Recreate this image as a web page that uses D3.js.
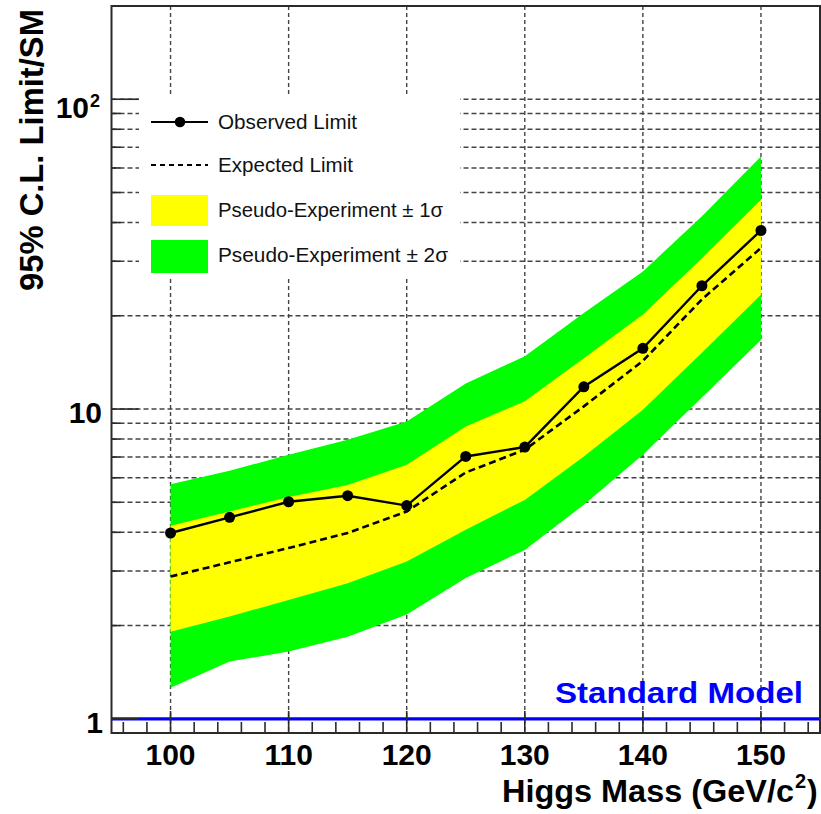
<!DOCTYPE html>
<html>
<head>
<meta charset="utf-8">
<script src="https://cdn.jsdelivr.net/npm/d3@7"></script>
<style>
  html, body { margin: 0; padding: 0; background: #ffffff; }
  svg { display: block; }
  text { font-family: "Liberation Sans", Arial, Helvetica, sans-serif; }
</style>
</head>
<body>
<svg id="chart" width="821" height="814"></svg>
<script>
// Higgs mass points (GeV/c^2)
const masses = [100, 105, 110, 115, 120, 125, 130, 135, 140, 145, 150];
// 95% C.L. limit / SM, observed
const observed = [3.98, 4.47, 5.02, 5.25, 4.88, 7.03, 7.54, 11.8, 15.7, 25.0, 37.7];
// median expected limit
const expected = [2.88, 3.20, 3.56, 3.98, 4.67, 6.24, 7.39, 10.2, 14.3, 22.6, 33.1];
// pseudo-experiment bands
const minus2 = [1.26, 1.53, 1.65, 1.84, 2.17, 2.85, 3.51, 4.91, 7.12, 10.9, 16.7];
const minus1 = [1.91, 2.14, 2.42, 2.74, 3.22, 4.08, 5.09, 7.03, 9.95, 15.2, 23.4];
const plus1  = [4.20, 4.67, 5.20, 5.69, 6.61, 8.78, 10.6, 14.6, 20.2, 30.7, 47.4];
const plus2  = [5.72, 6.32, 7.12, 7.96, 9.12, 12.1, 14.8, 20.4, 27.8, 41.9, 65.4];

const xMajorTicks = [100, 110, 120, 130, 140, 150];
const xTickLabels = ["100", "110", "120", "130", "140", "150"];
const yMajorTicks = [1, 10, 100];
const smLevel = 1;

const legendLabels = ["Observed Limit", "Expected Limit", "Pseudo-Experiment \u00b1 1\u03c3", "Pseudo-Experiment \u00b1 2\u03c3"];

const svg = d3.select("#chart");
const L = 111.5, R = 820, T = 6, B = 733;

const x = d3.scaleLinear().domain([95, 155]).range([L, R]);
const y = d3.scaleLog().domain([0.9, 200]).range([B, T]);

svg.append("rect").attr("width", 821).attr("height", 814).attr("fill", "#fff");

// grid
const yGridVals = [];
[1, 10, 100].forEach(d => { for (let m = 1; m <= 9; m++) { const v = d * m; if (v <= 200) yGridVals.push(v); } });
yGridVals.push(200);
const grid = svg.append("g").attr("stroke", "#444").attr("stroke-width", 1.4).attr("fill", "none");
grid.selectAll("line.h").data(yGridVals).join("line").attr("class", "h")
  .attr("x1", L).attr("x2", R).attr("y1", d => y(d)).attr("y2", d => y(d))
  .attr("stroke-dasharray", "5,3");
grid.selectAll("line.v").data(xMajorTicks).join("line").attr("class", "v")
  .attr("x1", d => x(d)).attr("x2", d => x(d)).attr("y1", T).attr("y2", B)
  .attr("stroke-dasharray", "4,3");

const idx = d3.range(masses.length);
const band = (lo, hi) => d3.area().x(i => x(masses[i])).y0(i => y(lo[i])).y1(i => y(hi[i]))(idx);
svg.append("path").attr("d", band(minus2, plus2)).attr("fill", "#00ff00");
svg.append("path").attr("d", band(minus1, plus1)).attr("fill", "#ffff00");

const lineOf = arr => d3.line().x(i => x(masses[i])).y(i => y(arr[i]))(idx);
svg.append("path").attr("d", lineOf(expected)).attr("fill", "none")
  .attr("stroke", "#000").attr("stroke-width", 2.6).attr("stroke-dasharray", "7,4");
svg.append("path").attr("d", lineOf(observed)).attr("fill", "none")
  .attr("stroke", "#000").attr("stroke-width", 2.4);
svg.selectAll("circle.obs").data(idx).join("circle").attr("class", "obs")
  .attr("cx", i => x(masses[i])).attr("cy", i => y(observed[i])).attr("r", 5.5).attr("fill", "#000");

// legend
const lg = svg.append("g");
lg.append("rect").attr("x", 139).attr("y", 97).attr("width", 321).attr("height", 179).attr("fill", "#fff");
const lx1 = 151, lx2 = 208, tx = 218;
lg.append("line").attr("x1", lx1).attr("x2", lx2).attr("y1", 122).attr("y2", 122).attr("stroke", "#000").attr("stroke-width", 2.2);
lg.append("circle").attr("cx", 180).attr("cy", 122).attr("r", 5.3).attr("fill", "#000");
lg.append("line").attr("x1", lx1).attr("x2", lx2).attr("y1", 165).attr("y2", 165).attr("stroke", "#000").attr("stroke-width", 2).attr("stroke-dasharray", "5,4");
lg.append("rect").attr("x", lx1).attr("y", 195).attr("width", lx2 - lx1).attr("height", 31).attr("fill", "#ffff00");
lg.append("rect").attr("x", lx1).attr("y", 240).attr("width", lx2 - lx1).attr("height", 33).attr("fill", "#00ff00");
const lgBase = [129, 171.5, 216.5, 261.5];
const lgLen = [139, 135, 225, 230];
legendLabels.forEach((t, i) => {
  lg.append("text").attr("x", tx).attr("y", lgBase[i]).attr("font-size", 21).attr("fill", "#111")
    .attr("textLength", lgLen[i]).attr("lengthAdjust", "spacingAndGlyphs").text(t);
});

// Standard Model reference line
svg.append("line").attr("x1", L).attr("x2", R).attr("y1", y(smLevel)).attr("y2", y(smLevel))
  .attr("stroke", "#0000ff").attr("stroke-width", 3.2);
svg.append("text").attr("x", 555).attr("y", 703).attr("font-size", 30).attr("font-weight", "bold")
  .attr("fill", "#0000ff").attr("textLength", 248).attr("lengthAdjust", "spacingAndGlyphs").text("Standard Model");

// frame
svg.append("rect").attr("x", L).attr("y", T).attr("width", R - L).attr("height", B - T)
  .attr("fill", "none").attr("stroke", "#2a2a2a").attr("stroke-width", 2);

// ticks
const ticks = svg.append("g").attr("stroke", "#2a2a2a").attr("stroke-width", 1.6);
const xMinor = d3.range(96, 155, 2).filter(v => v % 10 !== 0);
ticks.selectAll("line.xm").data(xMinor).join("line").attr("class", "xm")
  .attr("x1", d => x(d)).attr("x2", d => x(d)).attr("y1", B).attr("y2", B - 11);
ticks.selectAll("line.xM").data(xMajorTicks).join("line").attr("class", "xM")
  .attr("x1", d => x(d)).attr("x2", d => x(d)).attr("y1", B).attr("y2", B - 22);
const yMinor = yGridVals.filter(v => !yMajorTicks.includes(v) && v < 200);
ticks.selectAll("line.ym").data(yMinor).join("line").attr("class", "ym")
  .attr("x1", L).attr("x2", L + 9).attr("y1", d => y(d)).attr("y2", d => y(d));
ticks.selectAll("line.yM").data(yMajorTicks).join("line").attr("class", "yM")
  .attr("x1", L).attr("x2", L + 27).attr("y1", d => y(d)).attr("y2", d => y(d));

// x tick labels
svg.selectAll("text.xl").data(xMajorTicks).join("text").attr("class", "xl")
  .attr("x", d => x(d)).attr("y", 765).attr("text-anchor", "middle")
  .attr("font-size", 30).attr("font-weight", "bold").attr("fill", "#000")
  .text((d, i) => xTickLabels[i]);

// y tick labels
svg.append("text").attr("x", 103).attr("y", y(1) + 14).attr("text-anchor", "end")
  .attr("font-size", 30).attr("font-weight", "bold").text("1");
svg.append("text").attr("x", 102).attr("y", y(10) + 13.5).attr("text-anchor", "end")
  .attr("font-size", 30).attr("font-weight", "bold").text("10");
svg.append("text").attr("x", 89).attr("y", y(100) + 18.5).attr("text-anchor", "end")
  .attr("font-size", 30).attr("font-weight", "bold").text("10");
svg.append("text").attr("x", 90).attr("y", y(100) + 8).attr("text-anchor", "start")
  .attr("font-size", 18).attr("font-weight", "bold").text("2");

// axis titles
svg.append("text").attr("x", 794).attr("y", 802).attr("text-anchor", "end")
  .attr("font-size", 32).attr("font-weight", "bold")
  .attr("textLength", 292).attr("lengthAdjust", "spacingAndGlyphs").text("Higgs Mass (GeV/c");
svg.append("text").attr("x", 795).attr("y", 788).attr("font-size", 20).attr("font-weight", "bold").text("2");
svg.append("text").attr("x", 807).attr("y", 802).attr("font-size", 32).attr("font-weight", "bold").text(")");

svg.append("text").attr("transform", "translate(43,291) rotate(-90)")
  .attr("font-size", 33).attr("font-weight", "bold")
  .attr("textLength", 282).attr("lengthAdjust", "spacingAndGlyphs").text("95% C.L. Limit/SM");
</script>
</body>
</html>
